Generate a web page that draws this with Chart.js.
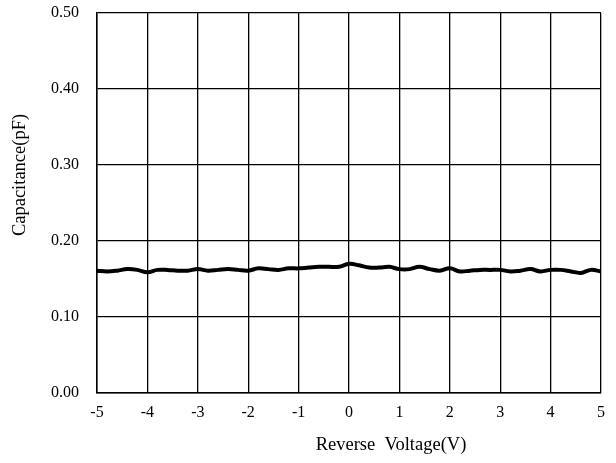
<!DOCTYPE html>
<html>
<head>
<meta charset="utf-8">
<script src="https://cdn.jsdelivr.net/npm/chart.js@4.4.0/dist/chart.umd.min.js"></script>
<style>
  html, body { margin: 0; padding: 0; background: #fff; }
  #wrap { width: 616px; height: 463px; }
</style>
</head>
<body>
<div id="wrap"><canvas id="capChart" width="616" height="463"></canvas></div>
<script>
// reverse voltage (V), 0.2 V steps
var voltage = [
    -5.0, -4.8, -4.6, -4.4, -4.2, -4.0, -3.8, -3.6, -3.4, -3.2,
    -3.0, -2.8, -2.6, -2.4, -2.2, -2.0, -1.8, -1.6, -1.4, -1.2,
    -1.0, -0.8, -0.6, -0.4, -0.2, 0.0, 0.2, 0.4, 0.6, 0.8,
    1.0, 1.2, 1.4, 1.6, 1.8, 2.0, 2.2, 2.4, 2.6, 2.8,
    3.0, 3.2, 3.4, 3.6, 3.8, 4.0, 4.2, 4.4, 4.6, 4.8, 5.0
];
// capacitance (pF)
var capacitance = [
    0.161, 0.160, 0.161, 0.163, 0.162, 0.159, 0.162, 0.162, 0.161, 0.161,
    0.163, 0.161, 0.162, 0.163, 0.162, 0.161, 0.164, 0.163, 0.162, 0.164,
    0.164, 0.165, 0.166, 0.166, 0.166, 0.170, 0.168, 0.165, 0.165, 0.166,
    0.163, 0.163, 0.166, 0.163, 0.161, 0.164, 0.160, 0.161, 0.162, 0.162,
    0.162, 0.160, 0.161, 0.163, 0.160, 0.162, 0.162, 0.160, 0.158, 0.162,
    0.160
];
var yTicks = [0.00, 0.10, 0.20, 0.30, 0.40, 0.50];
var xTitle = "Reverse  Voltage(V)";
var yTitle = "Capacitance(pF)";

var points = voltage.map(function (v, i) { return { x: v, y: capacitance[i] }; });

Chart.defaults.font.family = '"Liberation Serif", "Times New Roman", serif';
Chart.defaults.font.size = 16;
Chart.defaults.color = '#000';

// axis titles sit off-centre in the original, so draw them by hand
var axisTitles = {
    id: 'axisTitles',
    afterDraw: function (chart) {
        var c = chart.ctx;
        c.save();
        c.fillStyle = '#000';
        c.font = '18.5px "Liberation Serif", serif';
        c.textAlign = 'center';
        c.textBaseline = 'middle';
        c.fillText(xTitle, 391, 445);
        c.translate(20, 175);
        c.rotate(-Math.PI / 2);
        c.fillText(yTitle, 0, 0);
        c.restore();
    }
};

var ctx = document.getElementById("capChart").getContext('2d');
var capChart = new Chart(ctx, {
    type: 'line',
    data: {
        datasets: [{
            label: "Capacitance",
            data: points,
            borderColor: "#000",
            borderWidth: 4,
            pointRadius: 0,
            tension: 0.4,
            fill: false
        }]
    },
    options: {
        responsive: false,
        animation: false,
        layout: {
            padding: { top: 13, right: 15, left: 0, bottom: 0 }
        },
        scales: {
            x: {
                type: 'linear',
                min: -5,
                max: 5,
                afterFit: function (s) {
                    s.height = 70;
                    s.paddingLeft = 0;
                    s.paddingRight = 0;
                },
                ticks: {
                    stepSize: 1,
                    padding: 10,
                    maxRotation: 0
                },
                grid: {
                    color: "#000",
                    lineWidth: 1.3,
                    drawTicks: false
                },
                border: { color: "#000", width: 1.5 }
            },
            y: {
                min: 0,
                max: 0.5,
                afterFit: function (s) {
                    s.width = 97;
                    s.paddingTop = 0;
                    s.paddingBottom = 0;
                },
                afterBuildTicks: function (s) {
                    s.ticks = yTicks.map(function (v) { return { value: v }; });
                },
                ticks: {
                    padding: 18,
                    callback: function (v) { return v.toFixed(2); }
                },
                grid: {
                    color: "#000",
                    lineWidth: 1.3,
                    drawTicks: false
                },
                border: { color: "#000", width: 1.5 }
            }
        },
        plugins: {
            legend: { display: false },
            tooltip: { enabled: false }
        }
    },
    plugins: [axisTitles]
});
</script>
</body>
</html>
